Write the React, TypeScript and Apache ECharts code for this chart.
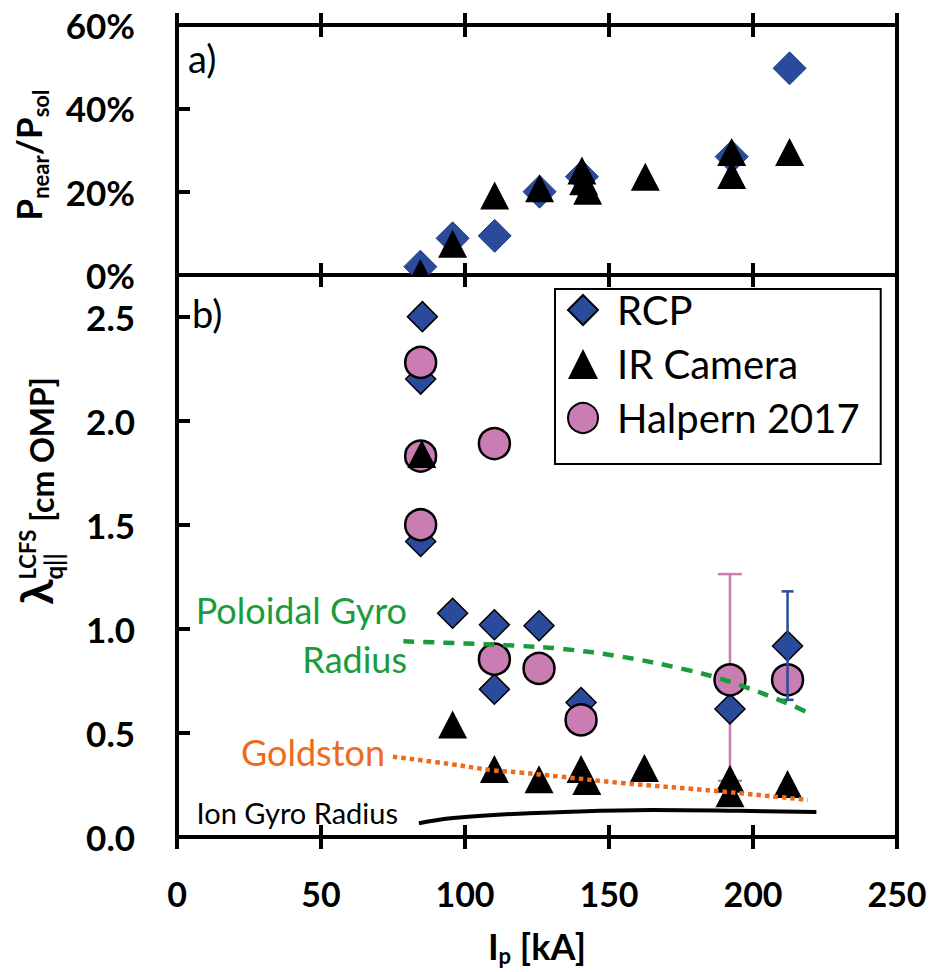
import React, { useEffect, useRef } from "react";
import * as echarts from "echarts";

// ---------------- data ----------------
// Panel a) P_near / P_sol [%]
const topRcpX = [84.5, 95.7, 110.3, 125.9, 140.6, 192.6, 212.7];
const topRcpY = [2, 8.8, 9.4, 20, 23.6, 28.4, 49.6];
const topIrX = [84.5, 95.7, 110.3, 125.9, 140.6, 141.2, 142.6, 162.6, 192.6, 192.6, 212.7];
const topIrY = [0.5, 7.5, 19.1, 20.8, 25.1, 22.5, 20.2, 23.6, 29.5, 24.0, 29.5];

// Panel b) lambda_q [cm OMP]
const rcpX = [85.2, 84.6, 84.6, 95.7, 110.2, 110.2, 125.7, 140.3, 192, 212];
const rcpY = [2.5, 2.2, 1.42, 1.075, 1.02, 0.71, 1.015, 0.646, 0.615, 0.918];
const halpernX = [84.6, 84.6, 84.6, 110.2, 110.2, 125.7, 140.3, 192, 212];
const halpernY = [2.28, 1.83, 1.5, 1.89, 0.854, 0.81, 0.5625, 0.755, 0.755];
const irX = [85, 95.7, 110.2, 125.7, 140.3, 142.3, 162.3, 192, 192, 212];
const irY = [1.84, 0.54, 0.327, 0.277, 0.327, 0.269, 0.332, 0.28, 0.21, 0.255];

// error bars: [Halpern @192, RCP @212]
const errX = [192, 212];
const errLow = [0.27, 0.659];
const errHigh = [1.263, 1.18];

// model curves
const poloidalX = [78.6, 100, 119, 133, 154, 177, 192, 212, 220];
const poloidalY = [0.94, 0.93, 0.918, 0.905, 0.867, 0.803, 0.746, 0.642, 0.591];
const goldstonX = [75, 95, 110, 119, 133, 154, 188, 219];
const goldstonY = [0.386, 0.35, 0.32, 0.31, 0.29, 0.26, 0.22, 0.178];
const ionX = [84, 95, 110, 130, 165, 195, 222];
const ionY = [0.066, 0.09, 0.106, 0.118, 0.13, 0.126, 0.12];

const xTickValues = [0, 50, 100, 150, 200, 250];
const topYTicks = [0, 20, 40, 60];
const botYTicks = [0, 0.5, 1, 1.5, 2, 2.5];

const legendNames = ["RCP", "IR Camera", "Halpern 2017"];

// ---------------- styles ----------------
const FONT = "Lato, 'DejaVu Sans', sans-serif";
const BLUE = "#2a4b9b";
const PINK = "#c97db3";
const GREEN = "#1a9c3c";
const ORANGE = "#ef6a1c";

const zip = (a: number[], b: number[]) => a.map((v, i) => [v, b[i]]);

let mctx: CanvasRenderingContext2D | null = null;
function measure(t: string, size: number, weight: string) {
  if (!mctx) mctx = document.createElement("canvas").getContext("2d");
  mctx!.font = `${weight} ${size}px ${FONT}`;
  return mctx!.measureText(t).width;
}

type Seg = { t: string; size: number; dy: number; adv?: boolean };
function buildSegs(segs: Seg[], weight: string) {
  let x = 0;
  let pend = 0;
  const children: any[] = [];
  segs.forEach((s) => {
    const w = measure(s.t, s.size, weight);
    children.push({
      type: "text",
      x,
      y: s.dy - 0.37 * s.size,
      silent: true,
      style: {
        text: s.t,
        fontSize: s.size,
        fontWeight: weight,
        fontFamily: FONT,
        fill: "#000",
        align: "left",
        verticalAlign: "middle",
        textAlign: "left",
        textVerticalAlign: "middle",
      },
    });
    if (s.adv === false) pend = Math.max(pend, w);
    else {
      x += Math.max(w, pend);
      pend = 0;
    }
  });
  return { children, width: x };
}

function txt(text: string, x: number, baseline: number, size: number, color: string, align: string, weight = "normal") {
  return {
    type: "text",
    x,
    y: baseline - 0.37 * size,
    silent: true,
    style: {
      text,
      fontSize: size,
      fontWeight: weight,
      fontFamily: FONT,
      fill: color,
      align,
      verticalAlign: "middle",
      textAlign: align,
      textVerticalAlign: "middle",
    },
  };
}

function xAxisDef(gridIndex: number, position: string, inside: boolean, labels: boolean) {
  return {
    type: "value",
    gridIndex,
    position,
    min: 0,
    max: 250,
    interval: 50,
    axisLine: { show: false },
    splitLine: { show: false },
    axisTick: { show: true, inside, length: 12, lineStyle: { color: "#000", width: 4 } },
    axisLabel: labels
      ? {
          show: true,
          margin: 39,
          color: "#000",
          fontFamily: FONT,
          fontWeight: "bold",
          fontSize: 34,
          formatter: (v: number) => (xTickValues.includes(v) ? String(v) : ""),
        }
      : { show: false },
  };
}

// clipped marker drawn through the axes' own scale (panel a)
function markerSeries(name: string, xs: number[], ys: number[], kind: "diamond" | "triangle", style: any) {
  return {
    type: "custom",
    name,
    xAxisIndex: 0,
    yAxisIndex: 0,
    clip: true,
    data: zip(xs, ys),
    renderItem: (params: any, api: any) => {
      const c = api.coord([api.value(0), api.value(1)]);
      let pts: number[][];
      if (kind === "diamond") {
        const h = 16.5;
        pts = [
          [c[0], c[1] - h],
          [c[0] + h, c[1]],
          [c[0], c[1] + h],
          [c[0] - h, c[1]],
        ];
      } else {
        const w = 14.5;
        const h = 14;
        pts = [
          [c[0], c[1] - h],
          [c[0] + w, c[1] + h],
          [c[0] - w, c[1] + h],
        ];
      }
      return { type: "polygon", shape: { points: pts }, style };
    },
  };
}

function buildOption() {
  const xTitle = buildSegs(
    [
      { t: "I", size: 36, dy: 0 },
      { t: "p", size: 22, dy: 5 },
      { t: " [kA]", size: 36, dy: 0 },
    ],
    "bold"
  );
  const topTitle = buildSegs(
    [
      { t: "P", size: 35, dy: 0 },
      { t: "near", size: 22, dy: 8 },
      { t: "/P", size: 35, dy: 0 },
      { t: "sol", size: 22, dy: 8 },
    ],
    "bold"
  );
  const botTitle = buildSegs(
    [
      { t: "λ", size: 46, dy: 0 },
      { t: "LCFS", size: 22, dy: -17, adv: false },
      { t: "q||", size: 24, dy: 9 },
      { t: " [cm OMP]", size: 32, dy: 0 },
    ],
    "bold"
  );

  const scatterBase = { type: "scatter", animation: false };

  return {
    animation: false,
    backgroundColor: "#fff",
    grid: [
      { left: 177, right: 33, top: 25, height: 250, show: true, borderColor: "#000", borderWidth: 4, backgroundColor: "transparent" },
      { left: 177, right: 33, top: 275, height: 562, show: true, borderColor: "#000", borderWidth: 4, backgroundColor: "transparent" },
    ],
    xAxis: [
      xAxisDef(0, "bottom", true, false), // 0
      xAxisDef(0, "bottom", false, false), // 1
      xAxisDef(0, "top", true, false), // 2
      xAxisDef(0, "top", false, false), // 3
      xAxisDef(1, "bottom", true, false), // 4
      xAxisDef(1, "bottom", false, true), // 5
    ],
    yAxis: [
      {
        type: "value",
        gridIndex: 0,
        position: "left",
        min: 0,
        max: 60,
        interval: 20,
        axisLine: { show: false },
        splitLine: { show: false },
        axisTick: { show: true, inside: true, length: 13, lineStyle: { color: "#000", width: 4 } },
        axisLabel: {
          margin: 42,
          color: "#000",
          fontFamily: FONT,
          fontWeight: "bold",
          fontSize: 35,
          formatter: (v: number) => (topYTicks.includes(v) ? v + "%" : ""),
        },
      },
      {
        type: "value",
        gridIndex: 1,
        position: "left",
        min: 0,
        max: 2.7,
        interval: 0.5,
        axisLine: { show: false },
        splitLine: { show: false },
        axisTick: { show: true, inside: true, length: 13, lineStyle: { color: "#000", width: 4 } },
        axisLabel: {
          margin: 42,
          showMaxLabel: false,
          color: "#000",
          fontFamily: FONT,
          fontWeight: "bold",
          fontSize: 35,
          formatter: (v: number) => (botYTicks.some((t) => Math.abs(t - v) < 1e-9) ? v.toFixed(1) : ""),
        },
      },
    ],
    legend: {
      orient: "vertical",
      left: 555,
      top: 289,
      data: legendNames,
      itemWidth: 30,
      itemHeight: 30,
      itemGap: 14,
      padding: [1, 21, 26, 12],
      borderColor: "#000",
      borderWidth: 2,
      backgroundColor: "#fff",
      selectedMode: false,
      textStyle: { fontFamily: FONT, fontSize: 40, color: "#000", padding: [0, 0, 0, 14] },
    },
    series: [
      {
        type: "custom",
        name: "errHalpern",
        xAxisIndex: 4,
        yAxisIndex: 1,
        z: 1,
        data: [[errX[0], errLow[0], errHigh[0]]],
        renderItem: (params: any, api: any) => {
          const x = api.value(0);
          const p1 = api.coord([x, api.value(2)]);
          const p2 = api.coord([x, api.value(1)]);
          const cap = 12;
          const st = { stroke: PINK, lineWidth: 2.5 };
          return {
            type: "group",
            children: [
              { type: "line", shape: { x1: p1[0], y1: p1[1], x2: p2[0], y2: p2[1] }, style: st },
              { type: "line", shape: { x1: p1[0] - cap, y1: p1[1], x2: p1[0] + cap, y2: p1[1] }, style: st },
              { type: "line", shape: { x1: p2[0] - cap, y1: p2[1], x2: p2[0] + cap, y2: p2[1] }, style: st },
            ],
          };
        },
      },
      {
        ...scatterBase,
        name: "RCP",
        xAxisIndex: 4,
        yAxisIndex: 1,
        symbol: "diamond",
        symbolSize: 30,
        itemStyle: { color: BLUE, borderColor: "#000", borderWidth: 1.5, opacity: 1 },
        data: zip(rcpX, rcpY),
      },
      markerSeries("RCP (a)", topRcpX, topRcpY, "diamond", { fill: BLUE, stroke: "#23407f", lineWidth: 1 }),
      {
        ...scatterBase,
        name: "Halpern 2017",
        xAxisIndex: 4,
        yAxisIndex: 1,
        symbol: "circle",
        symbolSize: 31,
        itemStyle: { color: PINK, borderColor: "#000", borderWidth: 2.5, opacity: 1 },
        data: zip(halpernX, halpernY),
      },
      {
        ...scatterBase,
        name: "IR Camera",
        xAxisIndex: 4,
        yAxisIndex: 1,
        symbol: "triangle",
        symbolSize: [29, 28],
        itemStyle: { color: "#000", opacity: 1 },
        data: zip(irX, irY),
      },
      markerSeries("IR Camera (a)", topIrX, topIrY, "triangle", { fill: "#000" }),
      {
        type: "line",
        name: "Poloidal Gyro Radius",
        xAxisIndex: 4,
        yAxisIndex: 1,
        showSymbol: false,
        smooth: 0.4,
        lineStyle: { color: GREEN, width: 4.5, type: [11, 9] },
        data: zip(poloidalX, poloidalY),
      },
      {
        type: "line",
        name: "Goldston",
        xAxisIndex: 4,
        yAxisIndex: 1,
        showSymbol: false,
        smooth: 0.4,
        lineStyle: { color: ORANGE, width: 4.5, type: [4.5, 4] },
        data: zip(goldstonX, goldstonY),
      },
      {
        type: "line",
        name: "Ion Gyro Radius",
        xAxisIndex: 4,
        yAxisIndex: 1,
        showSymbol: false,
        smooth: 0.4,
        lineStyle: { color: "#000", width: 4 },
        data: zip(ionX, ionY),
      },
      {
        type: "custom",
        name: "errRCP",
        xAxisIndex: 4,
        yAxisIndex: 1,
        z: 3,
        data: [[errX[1], errLow[1], errHigh[1]]],
        renderItem: (params: any, api: any) => {
          const x = api.value(0);
          const p1 = api.coord([x, api.value(2)]);
          const p2 = api.coord([x, api.value(1)]);
          const cap = 6;
          const st = { stroke: BLUE, lineWidth: 2.5 };
          return {
            type: "group",
            children: [
              { type: "line", shape: { x1: p1[0], y1: p1[1], x2: p2[0], y2: p2[1] }, style: st },
              { type: "line", shape: { x1: p1[0] - cap, y1: p1[1], x2: p1[0] + cap, y2: p1[1] }, style: st },
              { type: "line", shape: { x1: p2[0] - cap, y1: p2[1], x2: p2[0] + cap, y2: p2[1] }, style: st },
            ],
          };
        },
      },
    ],
    graphic: [
      { type: "group", x: 537 - xTitle.width / 2, y: 959, children: xTitle.children },
      { type: "group", x: 41, y: 155 + topTitle.width / 2, rotation: Math.PI / 2, children: topTitle.children },
      { type: "group", x: 53, y: 491 + botTitle.width / 2, rotation: Math.PI / 2, children: botTitle.children },
      txt("a)", 188, 72, 38, "#000", "left"),
      txt("b)", 192, 327, 38, "#000", "left"),
      txt("Poloidal Gyro", 407, 623, 36, GREEN, "right"),
      txt("Radius", 407, 672, 36, GREEN, "right"),
      txt("Goldston", 385, 765, 36, ORANGE, "right"),
      txt("Ion Gyro Radius", 398, 823, 29, "#000", "right"),
    ],
  };
}

export default function App() {
  const ref = useRef<HTMLDivElement>(null);
  useEffect(() => {
    const chart = echarts.init(ref.current!, null, { renderer: "svg" });
    chart.setOption(buildOption() as any);
    return () => chart.dispose();
  }, []);
  return <div ref={ref} style={{ position: "absolute", left: 0, top: 0, width: 930, height: 972 }} />;
}
